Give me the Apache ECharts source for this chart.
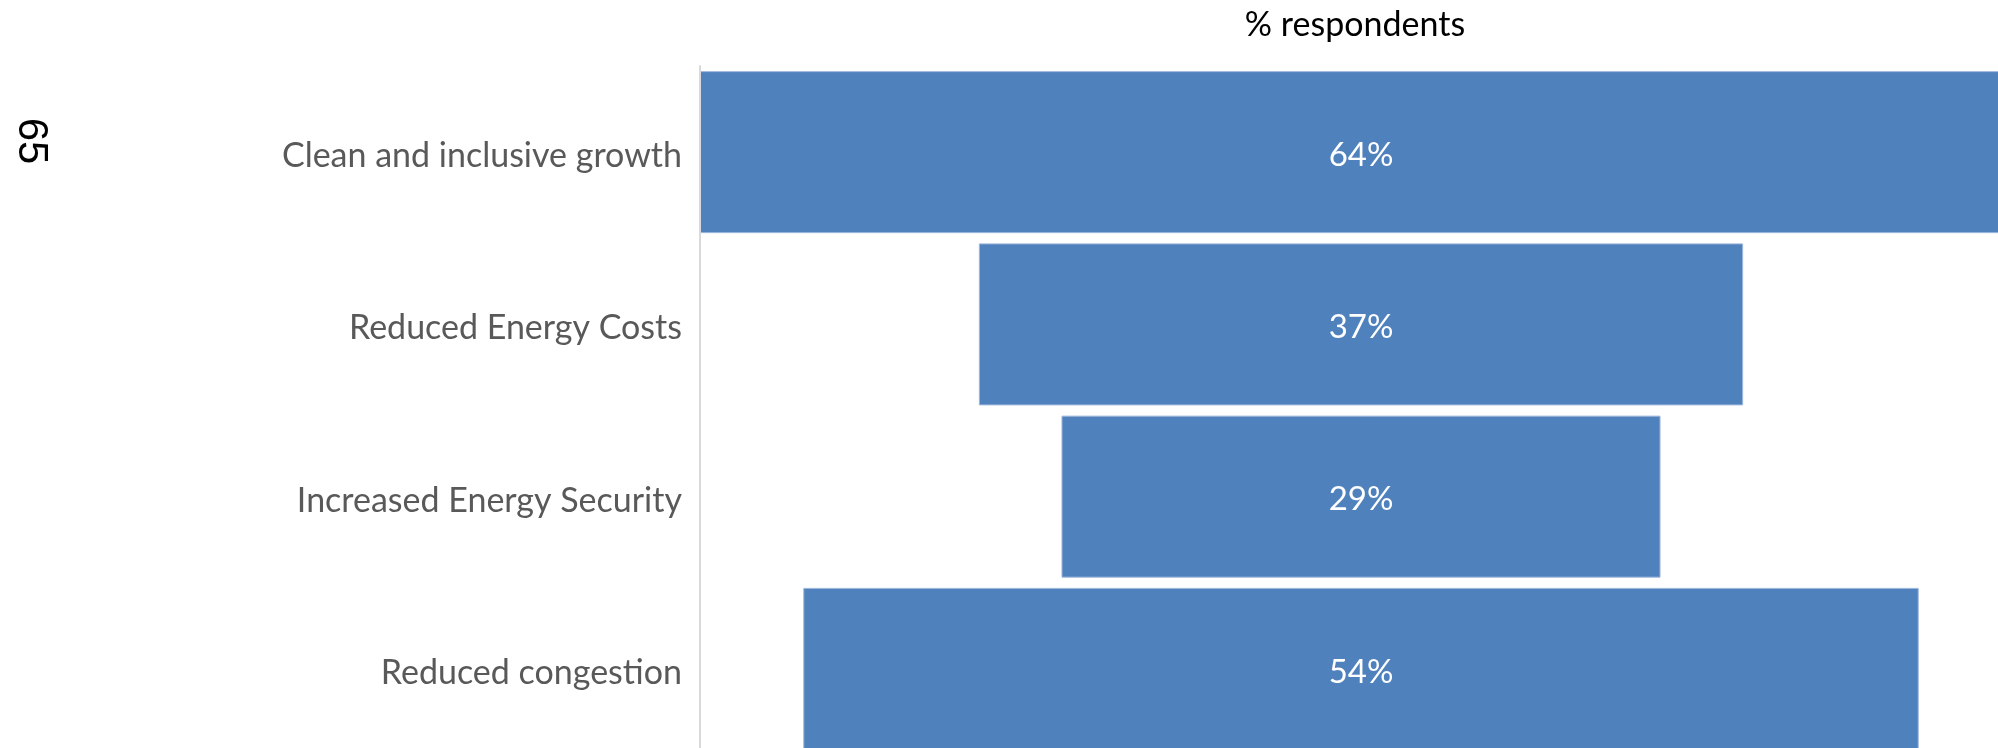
<!DOCTYPE html>
<html>
<head>
<meta charset="utf-8">
<title>% respondents</title>
<script src="https://cdn.jsdelivr.net/npm/echarts@6/dist/echarts.min.js"></script>
<style>
  html, body { margin: 0; padding: 0; background: #ffffff; }
  #chart { width: 1998px; height: 748px; }
</style>
</head>
<body>
<div id="chart"></div>
<script>
// Survey benefits, share of respondents (%)
const categories = [
  'Clean and inclusive growth',
  'Reduced Energy Costs',
  'Increased Energy Security',
  'Reduced congestion'
];
const values = [64, 37, 29, 54];
const titleText = '% respondents';
const pageNumber = '65';

const FONT = 'Lato, "Open Sans", sans-serif';
const BAR_BLUE = '#4f81bd';

// widest bar sets the scale; narrower bars are centred on it
const maxValue = Math.max(...values);
const padding = values.map(v => (maxValue - v) / 2);

const chart = echarts.init(document.getElementById('chart'), null, { renderer: 'canvas' });

chart.setOption({
  animation: false,
  backgroundColor: '#ffffff',
  title: {
    text: titleText,
    left: 1350,
    top: 3,
    textAlign: 'center',
    textStyle: { fontFamily: FONT, fontWeight: 'normal', fontSize: 34, color: '#000000' }
  },
  graphic: [{
    type: 'text',
    x: 31,
    y: 141,
    rotation: -Math.PI / 2,
    style: {
      text: pageNumber,
      font: '42px "Liberation Sans", Arial, sans-serif',
      fill: '#000000',
      textAlign: 'center',
      textVerticalAlign: 'middle'
    }
  }],
  // the plot runs past the right and bottom edges of the page
  grid: { left: 700, right: -24, top: 66, bottom: -7, outerBoundsMode: 'none', containLabel: false },
  xAxis: {
    type: 'value',
    min: 0,
    max: maxValue,
    show: false
  },
  yAxis: {
    type: 'category',
    data: categories,
    inverse: true,
    z: 5,
    axisLine: { show: true, lineStyle: { color: '#d9d9d9', width: 2 } },
    axisTick: { show: false },
    splitLine: { show: false },
    axisLabel: {
      margin: 18,
      formatter: v => `{t|${v}}`,
      rich: {
        t: {
          fontFamily: FONT,
          fontSize: 34,
          color: '#595959',
          padding: [8, 0, 0, 0]
        }
      }
    }
  },
  series: [
    {
      name: 'offset',
      type: 'bar',
      stack: 'funnel',
      data: padding,
      barWidth: 162,
      itemStyle: { color: 'rgba(0,0,0,0)' },
      emphasis: { disabled: true },
      silent: true
    },
    {
      name: titleText,
      type: 'bar',
      stack: 'funnel',
      data: values,
      barWidth: 162,
      itemStyle: { color: BAR_BLUE, borderColor: '#9db6db', borderWidth: 1 },
      label: {
        show: true,
        position: 'inside',
        offset: [0, 3],
        formatter: '{c}%',
        fontFamily: FONT,
        fontSize: 33,
        color: '#ffffff'
      }
    }
  ]
});
</script>
</body>
</html>
